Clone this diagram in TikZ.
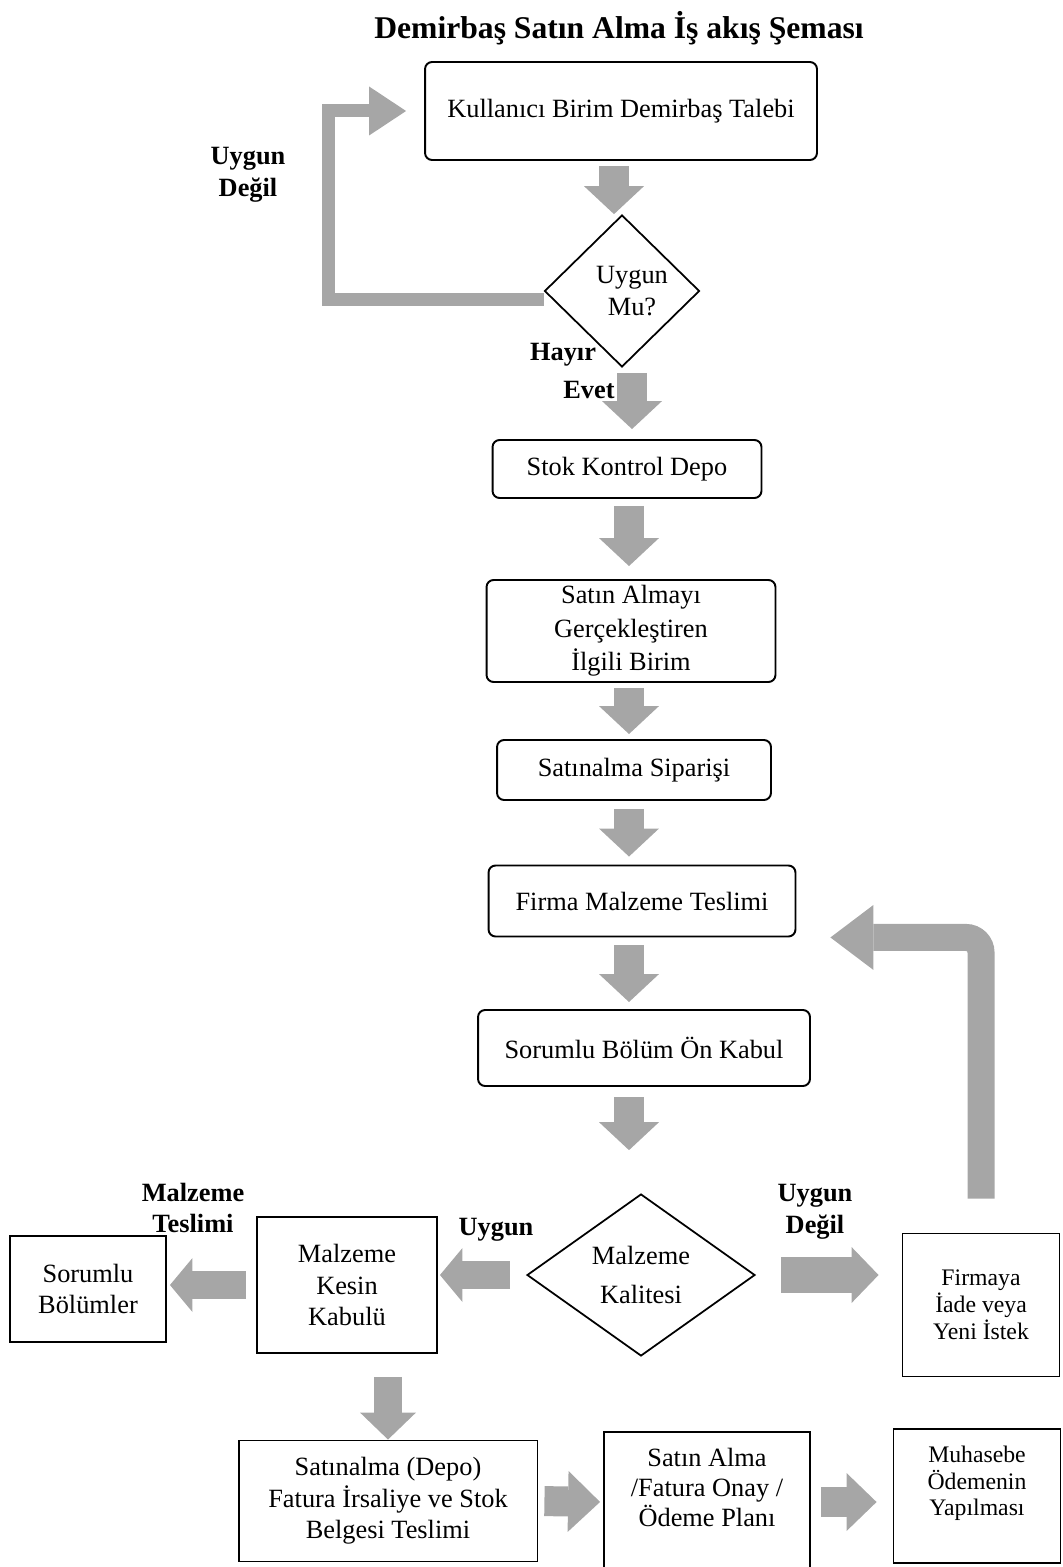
\documentclass[tikz,border=0pt]{standalone}
\usepackage{fontspec}
\setmainfont{Liberation Serif}
\usetikzlibrary{shapes.geometric,arrows.meta,calc}
\definecolor{arrowgray}{HTML}{A6A6A6}

\begin{document}
\begin{tikzpicture}
  [x=0.02cm, y=-0.02cm,
   font=\fontsize{15}{18}\selectfont,
   stepbox/.style = {
     draw, line width=1.1pt, rounded corners=4pt,
     align=center, inner sep=0pt
   },
   plainbox/.style = {
     draw, line width=1.1pt, align=center, inner sep=0pt
   },
   decision/.style = {
     draw, diamond, line width=1pt, align=center, inner sep=0pt
   },
   note/.style = {
     font=\fontsize{15}{18}\selectfont\bfseries, align=center
   },
   flow/.style = {
     draw=arrowgray, line width=0.6cm,
     -{Triangle[length=0.56cm, width=1.2cm, line width=0pt]}
   },
   sideflow/.style = {
     draw=arrowgray, line width=0.56cm,
     -{Triangle[length=0.45cm, width=1.08cm, line width=0pt]}
   },
   loopflow/.style = {
     draw=arrowgray, line width=0.26cm,
     -{Triangle[length=0.74cm, width=0.98cm, line width=0pt]}
   },
   backflow/.style = {
     draw=arrowgray, line width=0.54cm, rounded corners=0.3cm,
     -{Triangle[length=0.86cm, width=1.3cm, line width=0pt]}
   }]

  \useasboundingbox (0,0) rectangle (1062,1567);

  \node[font=\fontsize{18}{21}\selectfont\bfseries] at (619,28) (title)
    {Demirbaş Satın Alma İş akış Şeması};

  % Main column
  \node[stepbox, minimum width=7.84cm, minimum height=1.96cm] at (621,111) (talep)
    {Kullanıcı Birim Demirbaş Talebi};
  \node[decision, minimum width=3.1cm, minimum height=3.04cm] at (622,291) (uygunmu)
    {\hspace*{0.4cm}Uygun\\\hspace*{0.4cm}Mu?};
  \node[stepbox, minimum width=5.38cm, minimum height=1.16cm] at (627,469) (stok)
    {Stok Kontrol Depo};
  \node[stepbox, minimum width=5.78cm, minimum height=2.04cm,
        font=\fontsize{15}{19}\selectfont] at (631,631) (birim)
    {Satın Almayı\\Gerçekleştiren\\İlgili Birim};
  \node[stepbox, minimum width=5.48cm, minimum height=1.2cm] at (634,770) (siparis)
    {Satınalma Siparişi};
  \node[stepbox, minimum width=6.14cm, minimum height=1.42cm] at (642,901) (teslim)
    {Firma Malzeme Teslimi};
  \node[stepbox, minimum width=6.64cm, minimum height=1.52cm] at (644,1048) (onkabul)
    {Sorumlu Bölüm Ön Kabul};
  \node[decision, minimum width=4.56cm, minimum height=3.24cm] at (641,1275) (kalite)
    {Malzeme\\[4pt]Kalitesi};

  % Side boxes
  \node[plainbox, minimum width=3.6cm, minimum height=2.72cm] at (347,1285) (kesin)
    {Malzeme\\Kesin\\Kabulü};
  \node[plainbox, minimum width=3.12cm, minimum height=2.12cm] at (88,1289) (bolum)
    {Sorumlu\\Bölümler};
  \node[plainbox, minimum width=3.14cm, minimum height=2.86cm,
        font=\fontsize{13.5}{15.5}\selectfont] at (981,1305) (iade)
    {Firmaya\\İade veya\\Yeni İstek};

  % Bottom row
  \node[plainbox, minimum width=5.98cm, minimum height=2.42cm] at (388,1501) (depo)
    {Satınalma (Depo)\\Fatura İrsaliye ve Stok\\Belgesi Teslimi};
  \node[plainbox, minimum width=4.12cm, minimum height=2.8cm, text depth=17pt,
        font=\fontsize{15}{17}\selectfont] at (707,1502) (onay)
    {Satın Alma\\/Fatura Onay /\\Ödeme Planı};
  \node[plainbox, minimum width=3.34cm, minimum height=2.68cm, text depth=17pt,
        font=\fontsize{13.5}{15}\selectfont] at (977,1496) (odeme)
    {Muhasebe\\Ödemenin\\Yapılması};

  % Labels
  \node[note] at (248,175) (degil1) {Uygun\\Değil};
  \node[note] at (563,355) (hayir) {Hayır};
  \node[note] at (589,390) (evet) {Evet};
  \node[note] at (193,1208) (mteslim) {Malzeme\\Teslimi};
  \node[note] at (496,1230) (uygun) {Uygun};
  \node[note] at (815,1212) (degil2) {Uygun\\Değil};

  \coordinate (spine) at (629,0);

  % Down arrows
  \draw[flow, shorten <=0.1cm] ([xshift=-0.14cm]talep.south) -- ([xshift=-0.14cm]talep.south |- uygunmu.north);
  \draw[flow, shorten <=0.1cm, shorten >=0.2cm] ([xshift=0.2cm]uygunmu.south) -- ([xshift=0.2cm]uygunmu.south |- stok.north);
  \draw[flow, shorten <=0.14cm, shorten >=0.26cm] (stok.south -| spine) -- (birim.north -| spine);
  \draw[flow, shorten <=0.1cm, shorten >=0.1cm] (birim.south -| spine) -- (siparis.north -| spine);
  \draw[flow, shorten <=0.16cm, shorten >=0.16cm] (siparis.south -| spine) -- (teslim.north -| spine);
  \draw[flow, shorten <=0.16cm, shorten >=0.14cm] (teslim.south -| spine) -- (onkabul.north -| spine);
  \draw[flow, shorten <=0.2cm, shorten >=0.86cm] (onkabul.south -| spine) -- (kalite.north -| spine);

  % Loop back
  \draw[loopflow, shorten >=0.36cm] ([yshift=-0.18cm]uygunmu.west) -- ++(-215,0) |- (talep.west);
  \draw[backflow, shorten <=0.68cm, shorten >=0.68cm] (iade.north) |- (teslim.south east);

  % Side arrows
  \draw[sideflow, shorten <=0.32cm, shorten >=0.04cm] (kalite.west) -- (kalite.west -| kesin.east);
  \draw[sideflow, shorten <=0.2cm, shorten >=0.06cm] (kesin.west) -- (kesin.west -| bolum.east);
  \draw[sideflow, line width=0.72cm, shorten <=0.5cm, shorten >=0.46cm,
        -{Triangle[length=0.54cm, width=1.12cm, line width=0pt]}]
    (kalite.east) -- (kalite.east -| iade.west);
  \draw[sideflow, shorten <=0.46cm, -{Triangle[length=0.54cm, width=1.12cm, line width=0pt]}]
    (kesin.south -| depo.north) -- (depo.north);

  % Bottom row arrows
  \draw[flow, shorten <=0.12cm, shorten >=0.06cm,
        -{Triangle[length=0.64cm, width=1.22cm, line width=0pt]}] (depo.east) -- (onay.west);
  \draw[flow, shorten <=0.2cm, shorten >=0.32cm,
        -{Triangle[length=0.6cm, width=1.16cm, line width=0pt]}] (onay.east) -- (onay.east -| odeme.west);

\end{tikzpicture}
\end{document}
